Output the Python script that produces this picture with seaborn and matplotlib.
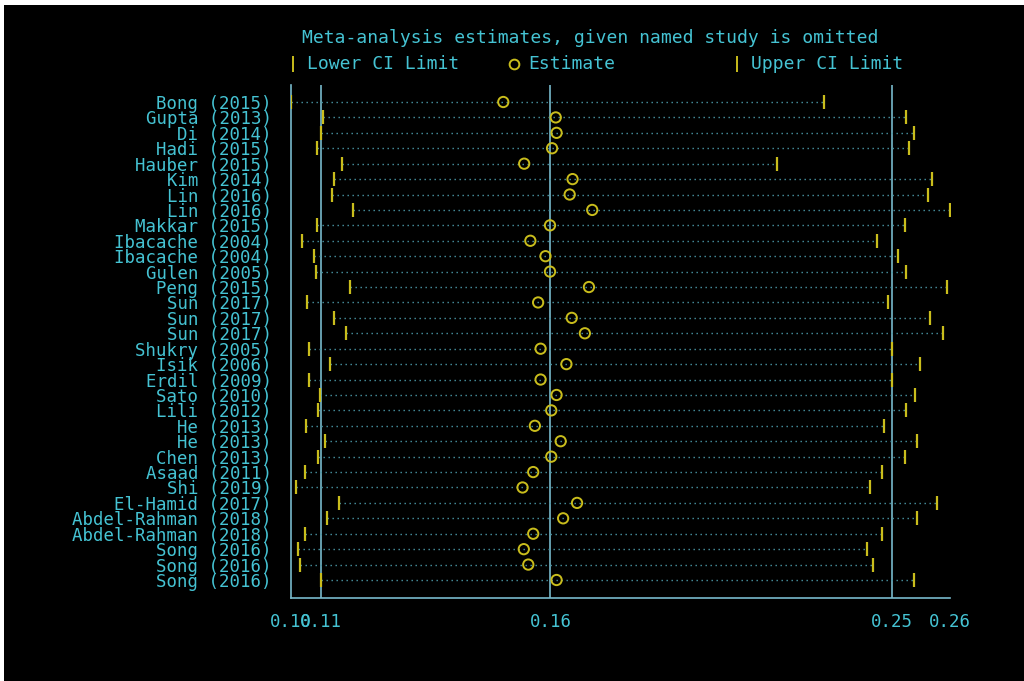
import pandas as pd
import matplotlib.pyplot as plt
import seaborn as sns
from matplotlib.patches import Rectangle
from matplotlib.lines import Line2D

# Data: leave-one-out meta-analysis
studies = ["Bong (2015)", "Gupta (2013)", "Di (2014)", "Hadi (2015)", "Hauber (2015)",
           "Kim (2014)", "Lin (2016)", "Lin (2016)", "Makkar (2015)", "Ibacache (2004)",
           "Ibacache (2004)", "Gulen (2005)", "Peng (2015)", "Sun (2017)", "Sun (2017)",
           "Sun (2017)", "Shukry (2005)", "Isik (2006)", "Erdil (2009)", "Sato (2010)",
           "Lili (2012)", "He (2013)", "He (2013)", "Chen (2013)", "Asaad (2011)",
           "Shi (2019)", "El-Hamid (2017)", "Abdel-Rahman (2018)", "Abdel-Rahman (2018)",
           "Song (2016)", "Song (2016)", "Song (2016)"]
lower = [0.1000, 0.1079, 0.1074, 0.1063, 0.1124, 0.1105, 0.1100, 0.1151, 0.1063, 0.1028,
         0.1055, 0.1060, 0.1145, 0.1040, 0.1105, 0.1135, 0.1044, 0.1095, 0.1044, 0.1071,
         0.1065, 0.1036, 0.1083, 0.1065, 0.1034, 0.1013, 0.1118, 0.1089, 0.1034, 0.1018,
         0.1022, 0.1074]
estimate = [0.1518, 0.1646, 0.1648, 0.1637, 0.1569, 0.1687, 0.1680, 0.1735, 0.1632, 0.1584,
            0.1621, 0.1632, 0.1727, 0.1603, 0.1685, 0.1717, 0.1609, 0.1672, 0.1609, 0.1648,
            0.1635, 0.1595, 0.1658, 0.1635, 0.1591, 0.1565, 0.1698, 0.1664, 0.1591, 0.1568,
            0.1579, 0.1648]
upper = [0.2300, 0.2501, 0.2520, 0.2509, 0.2186, 0.2565, 0.2554, 0.2608, 0.2499, 0.2430,
         0.2480, 0.2501, 0.2600, 0.2457, 0.2560, 0.2591, 0.2467, 0.2536, 0.2467, 0.2522,
         0.2501, 0.2448, 0.2528, 0.2498, 0.2443, 0.2413, 0.2576, 0.2528, 0.2443, 0.2405,
         0.2421, 0.2520]
overall = [0.1072, 0.1633, 0.2467]  # lower CI, estimate, upper CI of the full analysis

df = pd.DataFrame({"study": studies, "lower": lower, "est": estimate, "upper": upper})
df["pos"] = range(len(df))

BG = "#000000"
TXT = "#45c3d3"
LINE = "#78b9cb"
DOT = "#4a97a6"
YEL = "#c9bd1c"

sns.set_style("dark")
plt.rcParams["font.family"] = ["DejaVu Sans Mono", "DejaVu Sans"]

fig = plt.figure(figsize=(10.24, 6.81), dpi=100, facecolor="white")
fig.patches.append(Rectangle((4 / 1024, 0), 1, 1 - 5 / 681, transform=fig.transFigure,
                             facecolor=BG, edgecolor="none", zorder=-10))
ax = fig.add_axes([291 / 1024, 1 - 598 / 681, (950 - 291) / 1024, (598 - 85) / 681])
ax.set_facecolor(BG)

# dotted CI lines
ax.hlines(df["pos"], df["lower"], df["upper"], colors=DOT, linewidth=1,
          linestyles=(0, (1, 2.6)), zorder=1)

# reference lines at overall CI and estimate
for v in overall:
    ax.axvline(v, color=LINE, linewidth=1.2, zorder=0)

sns.scatterplot(data=df, x="lower", y="pos", marker="|", s=110, color=YEL,
                linewidth=1.6, ax=ax, zorder=3, legend=False)
sns.scatterplot(data=df, x="upper", y="pos", marker="|", s=110, color=YEL,
                linewidth=1.6, ax=ax, zorder=3, legend=False)
sns.scatterplot(data=df, x="est", y="pos", marker="o", s=55, color=YEL,
                facecolor="none", edgecolor=YEL, linewidth=1.4, ax=ax, zorder=4,
                legend=False)

xmin, xmax = df["lower"].min(), df["upper"].max()
ax.set_xlim(xmin, xmax)
ax.set_ylim(len(df) - 1 + 18 / 15.42, -17 / 15.42)

ticks = [xmin] + overall + [xmax]
ax.set_xticks(ticks)
ax.set_xticklabels([f"{t:.2f}" for t in ticks])
ax.set_yticks(df["pos"])
ax.set_yticklabels(df["study"])
ax.set_xlabel("")
ax.set_ylabel("")
ax.grid(False)

ax.tick_params(axis="x", colors=LINE, length=8, width=1.2, direction="out",
               labelcolor=TXT, labelsize=12.5, pad=3)
ax.tick_params(axis="y", length=0, labelcolor=TXT, labelsize=12.5, pad=14)
for side in ["top", "right"]:
    ax.spines[side].set_visible(False)
for side in ["left", "bottom"]:
    ax.spines[side].set_visible(True)
    ax.spines[side].set_color(LINE)
    ax.spines[side].set_linewidth(1.2)

# title and legend row
fig.text(590 / 1024, 1 - 38 / 681, "Meta-analysis estimates, given named study is omitted",
         color=TXT, fontsize=13, ha="center", va="center")
leg_y = 1 - 64 / 681
items = [(293, "|", "Lower CI Limit"), (514, "o", "Estimate"), (737, "|", "Upper CI Limit")]
for px, mk, label in items:
    fig.add_artist(Line2D([px / 1024], [leg_y], marker=mk, linestyle="none",
                          markersize=7 if mk == "o" else 12,
                          markerfacecolor="none", markeredgecolor=YEL,
                          markeredgewidth=1.4, transform=fig.transFigure))
    fig.text((px + 14) / 1024, leg_y, label, color=TXT, fontsize=13,
             ha="left", va="center")

fig.savefig("out.png", dpi=100, facecolor=fig.get_facecolor())
